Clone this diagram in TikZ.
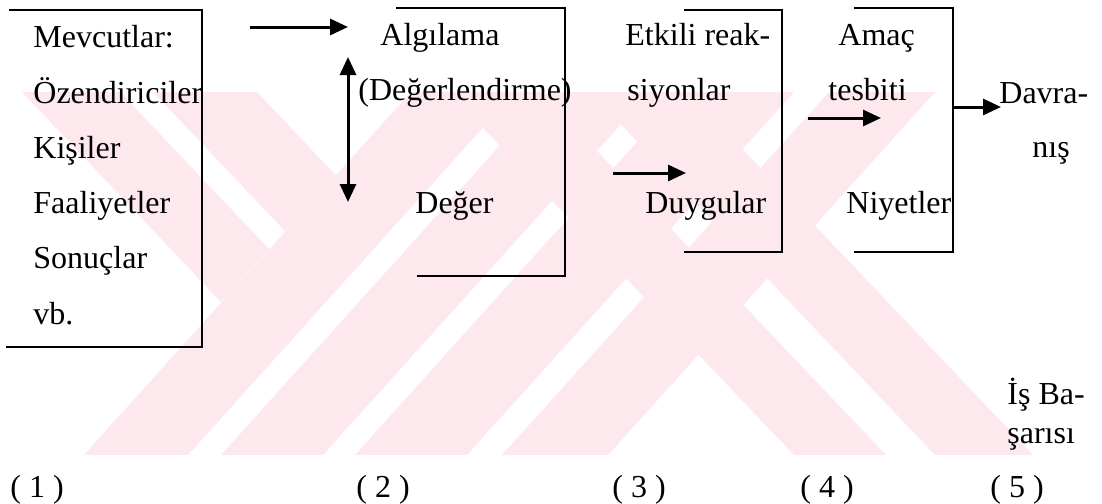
\documentclass[tikz,border=0pt]{standalone}
\usepackage{fontspec}
\setmainfont{Liberation Serif}
\usetikzlibrary{arrows.meta}
\definecolor{wm}{RGB}{253,233,237}
\begin{document}
\begin{tikzpicture}[x=0.5pt,y=-0.5pt,
  box/.style={line width=1.3pt, line cap=rect},
  arr/.style={line width=1.5pt, -{Triangle[length=9pt,width=8pt]}},
  darr/.style={line width=1.5pt, {Triangle[length=9pt,width=8pt]}-{Triangle[length=9pt,width=8pt]}},
  lbl/.style={anchor=base west, inner sep=0pt, font=\fontsize{16}{19}\selectfont},
  band/.style={fill=wm, draw=none}]
\useasboundingbox (0,0) rectangle (1102,503);
\fill[white] (0,0) rectangle (1102,503);
% watermark
\begin{scope}
\clip (0,92) rectangle (1102,455);
\fill[band] (84,455) -- (188,455) -- (515,92) -- (411,92) -- cycle;
\fill[band] (221,455) -- (323,455) -- (650,92) -- (548,92) -- cycle;
\fill[band] (355,455) -- (467,455) -- (794,92) -- (682,92) -- cycle;
\fill[band] (502,455) -- (608,455) -- (935,92) -- (829,92) -- cycle;
\fill[band] (794,455) -- (886,455) -- (541,92) -- (449,92) -- cycle;
\fill[band] (935,455) -- (1033,455) -- (688,92) -- (590,92) -- cycle;
\fill[band] (22,92) -- (120,92) -- (269,249) -- (221,302) -- cycle;
\fill[band] (153,92) -- (257,92) -- (343,183) -- (285,231) -- cycle;
\end{scope}
% boxes
\draw[box] (10,10) -- (202,10) -- (202,347) -- (7,347);
\draw[box] (397,8) -- (565,8) -- (565,276) -- (418,276);
\draw[box] (685,10) -- (782,10) -- (782,252) -- (685,252);
\draw[box] (855,8) -- (953,8) -- (953,252) -- (855,252);
% texts box 1
\node[lbl] (t11) at (33,47) {Mevcutlar:};
\node[lbl] (t12) at (33,103) {Özendiriciler};
\node[lbl] (t13) at (33,158) {Kişiler};
\node[lbl] (t14) at (33,213) {Faaliyetler};
\node[lbl] (t15) at (33,268) {Sonuçlar};
\node[lbl] (t16) at (33,324) {vb.};
% box 2
\node[lbl] (t21) at (380,45) {Algılama};
\node[lbl] (t22) at (358,100) {(Değerlendirme)};
\node[lbl] (t23) at (415,213) {Değer};
% box 3
\node[lbl] (t31) at (625,45) {Etkili reak-};
\node[lbl] (t32) at (627,100) {siyonlar};
\node[lbl] (t33) at (645,213) {Duygular};
% box 4
\node[lbl] (t41) at (838,45) {Amaç};
\node[lbl] (t42) at (828,100) {tesbiti};
\node[lbl] (t43) at (846,213) {Niyetler};
% right
\node[lbl] (t51) at (999,103) {Davra-};
\node[lbl] (t52) at (1032,157) {nış};
\node[lbl] (t61) at (1007,404) {İş Ba-};
\node[lbl] (t62) at (1007,443) {şarısı};
% numbers
\node[lbl] (n1) at (10,497) {( 1 )};
\node[lbl] (n2) at (356,497) {( 2 )};
\node[lbl] (n3) at (612,497) {( 3 )};
\node[lbl] (n4) at (800,497) {( 4 )};
\node[lbl] (n5) at (990,497) {( 5 )};
% arrows
\coordinate (a1s) at (250,27);
\coordinate (a1e) at (348,27);
\coordinate (d1s) at (348,57);
\coordinate (d1e) at (348,202);
\coordinate (a3s) at (613,173);
\coordinate (a3e) at (686,173);
\coordinate (a4s) at (808,118);
\coordinate (a4e) at (881,118);
\coordinate (a5s) at (953,107);
\coordinate (a5e) at (1001,107);
\draw[arr] (a1s) -- (a1e);
\draw[darr] (d1s) -- (d1e);
\draw[arr] (a3s) -- (a3e);
\draw[arr] (a4s) -- (a4e);
\draw[arr] (a5s) -- (a5e);
\end{tikzpicture}
\end{document}
